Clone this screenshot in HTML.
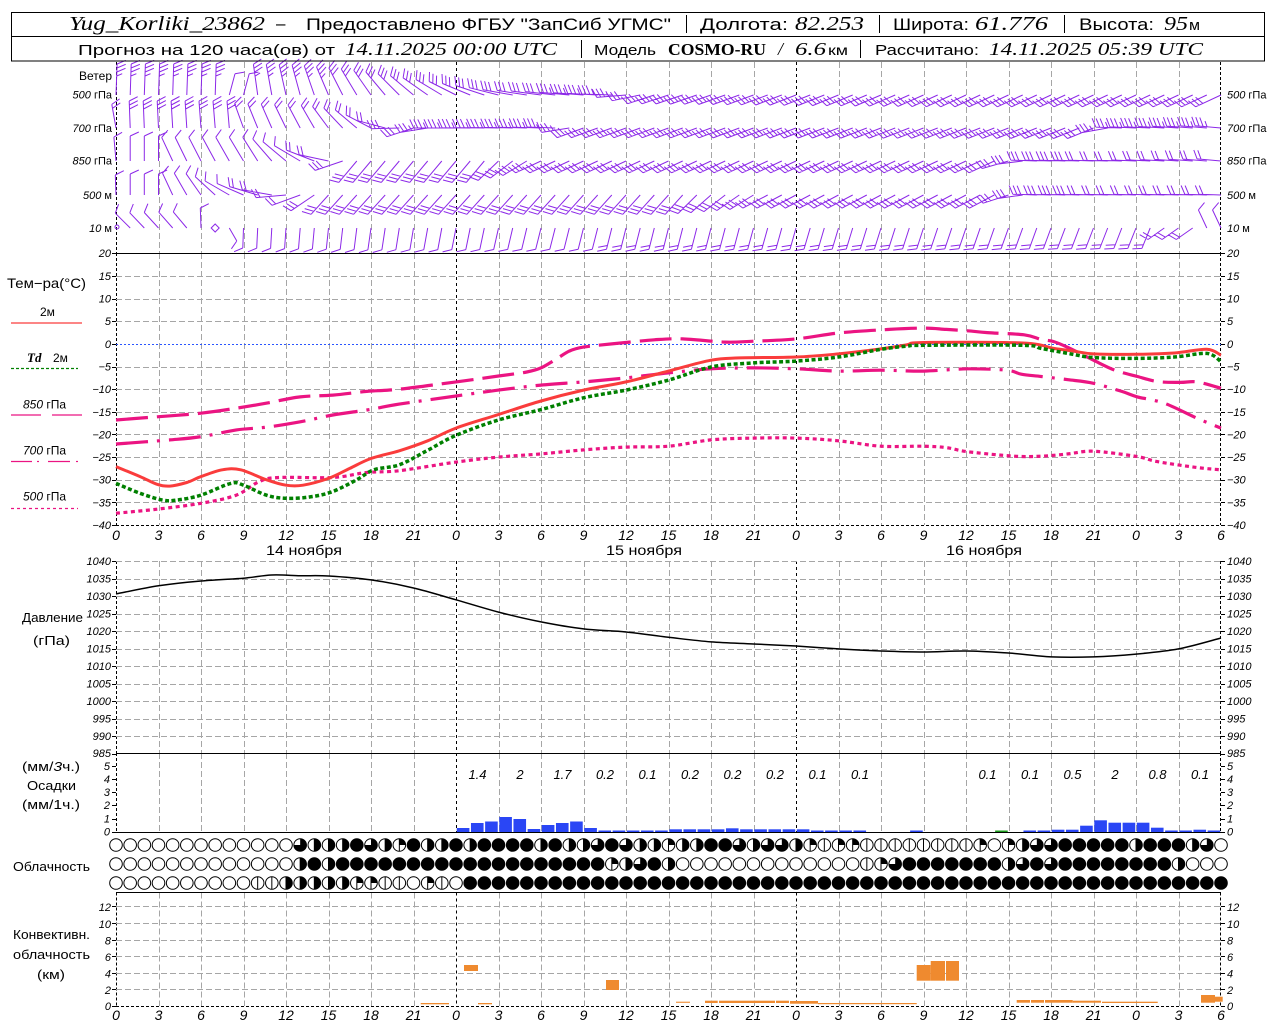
<!DOCTYPE html>
<html><head><meta charset="utf-8">
<style>
html,body{margin:0;padding:0;background:#fff;}
svg{display:block;}
text{font-family:"Liberation Sans",sans-serif;fill:#000;}
.sr{font-family:"Liberation Serif",serif;font-style:italic;}
.tk{font-size:11px;font-style:italic;}
.xl{font-size:14px;font-style:italic;text-anchor:middle;}
.pv{font-size:13px;font-style:italic;text-anchor:middle;}
.lb{font-size:13px;}
</style></head><body>
<svg id="s" width="1280" height="1024" viewBox="0 0 1280 1024" xmlns="http://www.w3.org/2000/svg">
<rect width="1280" height="1024" fill="#fff"/>
<g id="grid"></g>
<g id="data"></g>

<!-- header -->
<rect x="11.5" y="12.5" width="1253" height="48.5" fill="none" stroke="#000" stroke-width="1"/>
<line x1="11" y1="36.5" x2="1265" y2="36.5" stroke="#000"/>
<text class="sr" x="69" y="30" font-size="20" textLength="196" lengthAdjust="spacingAndGlyphs">Yug_Korliki_23862</text>
<text x="276" y="29" font-size="17">–</text>
<text x="306" y="30" font-size="17" textLength="365" lengthAdjust="spacingAndGlyphs">Предоставлено ФГБУ "ЗапСиб УГМС"</text>
<line x1="686.5" y1="15" x2="686.5" y2="33" stroke="#000"/>
<text x="700" y="30" font-size="17" textLength="88" lengthAdjust="spacingAndGlyphs">Долгота:</text>
<text class="sr" x="795" y="30" font-size="20" textLength="69" lengthAdjust="spacingAndGlyphs">82.253</text>
<line x1="879.5" y1="15" x2="879.5" y2="33" stroke="#000"/>
<text x="893" y="30" font-size="17" textLength="76" lengthAdjust="spacingAndGlyphs">Широта:</text>
<text class="sr" x="975" y="30" font-size="20" textLength="73" lengthAdjust="spacingAndGlyphs">61.776</text>
<line x1="1064.5" y1="15" x2="1064.5" y2="33" stroke="#000"/>
<text x="1079" y="30" font-size="17" textLength="75" lengthAdjust="spacingAndGlyphs">Высота:</text>
<text class="sr" x="1164" y="30" font-size="20" textLength="24" lengthAdjust="spacingAndGlyphs">95</text>
<text x="1189" y="30" font-size="15" textLength="11" lengthAdjust="spacingAndGlyphs">м</text>

<text x="78" y="55" font-size="15" textLength="257" lengthAdjust="spacingAndGlyphs">Прогноз на 120 часа(ов) от</text>
<text class="sr" x="345" y="55" font-size="18" textLength="212" lengthAdjust="spacingAndGlyphs">14.11.2025 00:00 UTC</text>
<line x1="581.5" y1="40" x2="581.5" y2="58" stroke="#000"/>
<text x="594" y="55" font-size="15" textLength="62" lengthAdjust="spacingAndGlyphs">Модель</text>
<text x="668" y="55" font-size="17" font-family="Liberation Serif" font-weight="bold" style="font-family:'Liberation Serif',serif" textLength="98" lengthAdjust="spacingAndGlyphs">COSMO-RU</text>
<text class="sr" x="778" y="55" font-size="18">/</text>
<text class="sr" x="795" y="55" font-size="18" textLength="31" lengthAdjust="spacingAndGlyphs">6.6</text>
<text x="828" y="55" font-size="14" textLength="20" lengthAdjust="spacingAndGlyphs">км</text>
<line x1="860.5" y1="40" x2="860.5" y2="58" stroke="#000"/>
<text x="875" y="55" font-size="15" textLength="104" lengthAdjust="spacingAndGlyphs">Рассчитано:</text>
<text class="sr" x="989" y="55" font-size="18" textLength="214" lengthAdjust="spacingAndGlyphs">14.11.2025 05:39 UTC</text>

<!-- wind labels -->
<text x="112" y="80" font-size="12" text-anchor="end">Ветер</text>
<g font-size="11" text-anchor="end">
<text x="112" y="98.5"><tspan font-style="italic">500</tspan> гПа</text>
<text x="112" y="132"><tspan font-style="italic">700</tspan> гПа</text>
<text x="112" y="164.5"><tspan font-style="italic">850</tspan> гПа</text>
<text x="112" y="199"><tspan font-style="italic">500</tspan>   м</text>
<text x="112" y="232"><tspan font-style="italic">10</tspan>    м</text>
</g>
<g font-size="11">
<text x="1227" y="98.5"><tspan font-style="italic">500</tspan> гПа</text>
<text x="1227" y="132"><tspan font-style="italic">700</tspan> гПа</text>
<text x="1227" y="164.5"><tspan font-style="italic">850</tspan> гПа</text>
<text x="1227" y="199"><tspan font-style="italic">500</tspan>   м</text>
<text x="1227" y="232"><tspan font-style="italic">10</tspan>    м</text>
</g>

<!-- temp legend -->
<text x="7" y="288" font-size="14" textLength="79" lengthAdjust="spacingAndGlyphs">Тем−ра(°C)</text>
<text x="40" y="316" font-size="12">2м</text>
<line x1="11" y1="323" x2="82" y2="323" stroke="#fa3c3c" stroke-width="1.2"/>
<text class="sr" x="27" y="362" font-size="13" font-weight="bold">Td</text>
<text x="53" y="362" font-size="12">2м</text>
<line x1="11" y1="368.5" x2="78" y2="368.5" stroke="#008000" stroke-width="1.2" stroke-dasharray="3,2"/>
<text x="23" y="408.5" font-size="12"><tspan font-style="italic">850</tspan> гПа</text>
<line x1="11" y1="415" x2="41" y2="415" stroke="#eb1482" stroke-width="1.2"/>
<line x1="52" y1="415" x2="82" y2="415" stroke="#eb1482" stroke-width="1.2"/>
<text x="23" y="454.5" font-size="12"><tspan font-style="italic">700</tspan> гПа</text>
<line x1="11" y1="461.5" x2="32" y2="461.5" stroke="#eb1482" stroke-width="1.2"/>
<line x1="37" y1="461.5" x2="39" y2="461.5" stroke="#eb1482" stroke-width="1.2"/>
<line x1="48" y1="461.5" x2="70" y2="461.5" stroke="#eb1482" stroke-width="1.2"/>
<line x1="76" y1="461.5" x2="78" y2="461.5" stroke="#eb1482" stroke-width="1.2"/>
<text x="23" y="500.5" font-size="12"><tspan font-style="italic">500</tspan> гПа</text>
<line x1="11" y1="508.5" x2="78" y2="508.5" stroke="#eb1482" stroke-width="1.2" stroke-dasharray="3,3"/>

<!-- temp ticks -->
<g class="tk" text-anchor="end">
<text x="111" y="257">20</text><text x="111" y="280">15</text><text x="111" y="302.5">10</text><text x="111" y="325">5</text><text x="111" y="348">0</text><text x="111" y="370.5">−5</text><text x="111" y="393">−10</text><text x="111" y="416">−15</text><text x="111" y="438.5">−20</text><text x="111" y="461">−25</text><text x="111" y="483.5">−30</text><text x="111" y="506.5">−35</text><text x="111" y="529">−40</text>
</g>
<g class="tk">
<text x="1227" y="257">20</text><text x="1227" y="280">15</text><text x="1227" y="302.5">10</text><text x="1227" y="325">5</text><text x="1227" y="348">0</text><text x="1227" y="370.5">−5</text><text x="1227" y="393">−10</text><text x="1227" y="416">−15</text><text x="1227" y="438.5">−20</text><text x="1227" y="461">−25</text><text x="1227" y="483.5">−30</text><text x="1227" y="506.5">−35</text><text x="1227" y="529">−40</text>
</g>

<!-- x labels temp -->
<g class="xl">
<text x="116" y="540">0</text><text x="158.5" y="540">3</text><text x="201" y="540">6</text><text x="243.5" y="540">9</text><text x="286" y="540">12</text><text x="328.5" y="540">15</text><text x="371" y="540">18</text><text x="413.5" y="540">21</text><text x="456" y="540">0</text><text x="498.5" y="540">3</text><text x="541" y="540">6</text><text x="583.5" y="540">9</text><text x="626" y="540">12</text><text x="668.5" y="540">15</text><text x="711" y="540">18</text><text x="753.5" y="540">21</text><text x="796" y="540">0</text><text x="838.5" y="540">3</text><text x="881" y="540">6</text><text x="923.5" y="540">9</text><text x="966" y="540">12</text><text x="1008.5" y="540">15</text><text x="1051" y="540">18</text><text x="1093.5" y="540">21</text><text x="1136" y="540">0</text><text x="1178.5" y="540">3</text><text x="1221" y="540">6</text>
</g>
<g font-size="14">
<text x="266" y="555" textLength="76" lengthAdjust="spacingAndGlyphs">14 ноября</text>
<text x="606" y="555" textLength="76" lengthAdjust="spacingAndGlyphs">15 ноября</text>
<text x="946" y="555" textLength="76" lengthAdjust="spacingAndGlyphs">16 ноября</text>
</g>

<!-- pressure -->
<text x="22" y="622" font-size="13" textLength="61" lengthAdjust="spacingAndGlyphs">Давление</text>
<text x="33" y="645" font-size="13" textLength="37" lengthAdjust="spacingAndGlyphs">(гПа)</text>
<g class="tk" text-anchor="end">
<text x="111" y="565">1040</text><text x="111" y="582.5">1035</text><text x="111" y="600">1030</text><text x="111" y="617.5">1025</text><text x="111" y="635">1020</text><text x="111" y="652.5">1015</text><text x="111" y="670">1010</text><text x="111" y="687.5">1005</text><text x="111" y="705">1000</text><text x="111" y="722.5">995</text><text x="111" y="740">990</text><text x="111" y="757">985</text>
</g>
<g class="tk">
<text x="1227" y="565">1040</text><text x="1227" y="582.5">1035</text><text x="1227" y="600">1030</text><text x="1227" y="617.5">1025</text><text x="1227" y="635">1020</text><text x="1227" y="652.5">1015</text><text x="1227" y="670">1010</text><text x="1227" y="687.5">1005</text><text x="1227" y="705">1000</text><text x="1227" y="722.5">995</text><text x="1227" y="740">990</text><text x="1227" y="757">985</text>
</g>

<!-- precip -->
<text x="22" y="771" font-size="13" textLength="58" lengthAdjust="spacingAndGlyphs">(мм/<tspan font-style="italic">3</tspan>ч.)</text>
<text x="27" y="790" font-size="13" textLength="49" lengthAdjust="spacingAndGlyphs">Осадки</text>
<text x="22" y="809" font-size="13" textLength="58" lengthAdjust="spacingAndGlyphs">(мм/1ч.)</text>
<g class="tk" text-anchor="end">
<text x="110" y="770">5</text><text x="110" y="783">4</text><text x="110" y="796">3</text><text x="110" y="809">2</text><text x="110" y="822.5">1</text><text x="110" y="835.5">0</text>
</g>
<g class="tk">
<text x="1227" y="770">5</text><text x="1227" y="783">4</text><text x="1227" y="796">3</text><text x="1227" y="809">2</text><text x="1227" y="822.5">1</text><text x="1227" y="835.5">0</text>
</g>
<g class="pv">
<text x="477.5" y="779">1.4</text><text x="520" y="779">2</text><text x="562.5" y="779">1.7</text><text x="605" y="779">0.2</text><text x="647.5" y="779">0.1</text><text x="690" y="779">0.2</text><text x="732.5" y="779">0.2</text><text x="775" y="779">0.2</text><text x="817.5" y="779">0.1</text><text x="860" y="779">0.1</text><text x="987.5" y="779">0.1</text><text x="1030" y="779">0.1</text><text x="1072.5" y="779">0.5</text><text x="1115" y="779">2</text><text x="1157.5" y="779">0.8</text><text x="1200" y="779">0.1</text>
</g>

<!-- cloud -->
<text x="13" y="871" font-size="13" textLength="77" lengthAdjust="spacingAndGlyphs">Облачность</text>

<!-- convective -->
<text x="13" y="939" font-size="13" textLength="77" lengthAdjust="spacingAndGlyphs">Конвективн.</text>
<text x="13" y="959" font-size="13" textLength="77" lengthAdjust="spacingAndGlyphs">облачность</text>
<text x="37" y="979" font-size="13" textLength="28" lengthAdjust="spacingAndGlyphs">(км)</text>
<g class="tk" text-anchor="end">
<text x="111" y="911">12</text><text x="111" y="928">10</text><text x="111" y="944.5">8</text><text x="111" y="961">6</text><text x="111" y="977.5">4</text><text x="111" y="994">2</text><text x="111" y="1010">0</text>
</g>
<g class="tk">
<text x="1227" y="911">12</text><text x="1227" y="928">10</text><text x="1227" y="944.5">8</text><text x="1227" y="961">6</text><text x="1227" y="977.5">4</text><text x="1227" y="994">2</text><text x="1227" y="1010">0</text>
</g>
<g class="xl">
<text x="116" y="1020">0</text><text x="158.5" y="1020">3</text><text x="201" y="1020">6</text><text x="243.5" y="1020">9</text><text x="286" y="1020">12</text><text x="328.5" y="1020">15</text><text x="371" y="1020">18</text><text x="413.5" y="1020">21</text><text x="456" y="1020">0</text><text x="498.5" y="1020">3</text><text x="541" y="1020">6</text><text x="583.5" y="1020">9</text><text x="626" y="1020">12</text><text x="668.5" y="1020">15</text><text x="711" y="1020">18</text><text x="753.5" y="1020">21</text><text x="796" y="1020">0</text><text x="838.5" y="1020">3</text><text x="881" y="1020">6</text><text x="923.5" y="1020">9</text><text x="966" y="1020">12</text><text x="1008.5" y="1020">15</text><text x="1051" y="1020">18</text><text x="1093.5" y="1020">21</text><text x="1136" y="1020">0</text><text x="1178.5" y="1020">3</text><text x="1221" y="1020">6</text>
</g>
</svg>
<script>
(function(){
const NS="http://www.w3.org/2000/svg";
const G=document.getElementById('grid'), D=document.getElementById('data');
function el(tag,a,p){const e=document.createElementNS(NS,tag);for(const k in a)e.setAttribute(k,a[k]);p.appendChild(e);return e;}
const X=h=>116+h*1105/78;
const Xr=h=>Math.round(X(h))+0.5;
const GRAY='#a6a6a6';
function hl(y,x1,x2,stroke,dash,p){const a={x1:x1,y1:y,x2:x2,y2:y,stroke:stroke,'stroke-width':1};if(dash)a['stroke-dasharray']=dash;el('line',a,p||G);}
function vl(x,y1,y2,stroke,dash,p){const a={x1:x,y1:y1,x2:x,y2:y2,stroke:stroke,'stroke-width':1};if(dash)a['stroke-dasharray']=dash;el('line',a,p||G);}
// vertical grid
const panels=[[62,253],[253,525],[561,753],[753,832],[892.5,1006]];
for(const [y1,y2] of panels){
  for(let h=3;h<78;h+=3){
    if(h==24||h==48) vl(Xr(h),y1,y2,'#000','3,3');
    else vl(Xr(h),y1,y2,GRAY,'6,3');
  }
  vl(116.5,y1,y2,'#000','3,2');
  vl(1220.5,y1,y2,'#000','3,2');
}
// temp horizontal grid
const TY=T=>343.9-T*4.528;
for(let T=15;T>=-35;T-=5){ if(T!==0) hl(Math.round(TY(T))+0.5,116,1221,GRAY,'6,3'); }
hl(253.5,116,1221,'#000');
hl(525.5,116,1221,'#000','3,2');
hl(344.5,116,1221,'#2a55ff','2,2');
// pressure grid
const PY=P=>561+(1040-P)*3.5;
for(let P=1040;P>=990;P-=5) hl(Math.round(PY(P))+0.5,116,1221,GRAY,'6,3');
hl(753.5,116,1221,'#000');
hl(832.5,116,1221,'#000');
hl(892.5,116,1221,'#000');
// conv grid
const CY=v=>1006-v*8.3;
for(let v=2;v<=12;v+=2) hl(Math.round(CY(v))+0.5,116,1221,GRAY,'6,3');
hl(1006.5,116,1221,'#000','3,2');
// ticks
function ticks(ys){for(const y of ys){hl(Math.round(y)+0.5,112,116,'#000');hl(Math.round(y)+0.5,1221,1225,'#000');}}
const ty=[];for(let T=20;T>=-40;T-=5)ty.push(TY(T));ticks(ty);
const py=[];for(let P=1040;P>=985;P-=5)py.push(PY(P));ticks(py);
ticks([766,779,792,805,818.5,831.5]);
const cy=[];for(let v=0;v<=12;v+=2)cy.push(CY(v));ticks(cy);

// smooth path
function path(pts){
  let d='M'+pts[0][0].toFixed(1)+','+pts[0][1].toFixed(1);
  for(let i=0;i<pts.length-1;i++){
    const p0=pts[Math.max(0,i-1)],p1=pts[i],p2=pts[i+1],p3=pts[Math.min(pts.length-1,i+2)];
    const c1x=p1[0]+(p2[0]-p0[0])/6,c1y=p1[1]+(p2[1]-p0[1])/6;
    const c2x=p2[0]-(p3[0]-p1[0])/6,c2y=p2[1]-(p3[1]-p1[1])/6;
    d+='C'+c1x.toFixed(1)+','+c1y.toFixed(1)+' '+c2x.toFixed(1)+','+c2y.toFixed(1)+' '+p2[0].toFixed(1)+','+p2[1].toFixed(1);
  }
  return d;
}
function curve(data,fy,stroke,w,dash,cap){
  const pts=data.map(p=>[X(p[0]),fy(p[1])]);
  const a={d:path(pts),fill:'none',stroke:stroke,'stroke-width':w,'stroke-linejoin':'round'};
  if(dash)a['stroke-dasharray']=dash;
  if(cap)a['stroke-linecap']=cap;
  el('path',a,D);
}
const PINK='#eb1482';
const T500=[[0,-37.4],[2.9,-36.5],[6,-35.2],[8.5,-33.4],[10.1,-30.4],[11.5,-29.5],[15.3,-29.5],[17.7,-28.4],[20,-28],[24,-26.1],[27,-25],[30,-24.3],[33,-23.4],[36,-22.8],[39,-22.6],[42,-21.2],[45,-20.8],[48,-20.8],[51,-21.4],[54,-22.6],[57,-22.6],[58.6,-22.9],[60.1,-23.8],[63.4,-24.8],[65.3,-24.8],[67.2,-24.3],[69,-23.7],[72.1,-24.9],[73.5,-26],[76.3,-27.3],[78,-27.8]];
const T700=[[0,-22.1],[3.8,-21.2],[6,-20.5],[8.5,-19],[10.6,-18.4],[13,-17.2],[15.3,-15.7],[17.7,-14.6],[20,-13.3],[24,-11.5],[27,-10.2],[30,-9.1],[33,-8.4],[36,-7.5],[39,-6.4],[42,-5.5],[45,-5.3],[48,-5.5],[51,-6],[54,-5.8],[57,-6],[60.1,-5.5],[62.9,-5.8],[63.9,-6.7],[65.3,-7.2],[67.2,-7.9],[69,-8.7],[71,-10.5],[72.1,-11.7],[74,-13.1],[76.3,-16.4],[78,-18.6]];
const T850=[[0,-16.8],[2.9,-16.1],[6,-15.3],[8.5,-14.2],[10.6,-13.1],[13,-11.7],[15.3,-11.3],[17.7,-10.5],[20,-10],[24,-8.4],[27,-7.1],[29,-6.2],[30,-5.3],[31,-3.5],[32,-1.6],[33,-0.7],[35,0],[38,0.9],[40,1.1],[43,0.4],[45,0.6],[48,1.1],[51,2.4],[54,3.1],[57,3.5],[58.6,3.2],[60.1,2.9],[61.5,2.5],[64.1,2.0],[65.3,1.0],[66.2,0.5],[67.2,-0.8],[69,-3.6],[70.5,-5.8],[72.1,-7.2],[73.5,-8.3],[75.1,-8.5],[76.3,-8.4],[78,-9.8]];
const TD=[[0,-30.8],[1.7,-33],[3.3,-34.5],[4.3,-34.5],[6,-33.4],[8.1,-30.8],[9,-31.2],[10.6,-33.4],[12,-34.1],[13.7,-33.8],[15.3,-32.6],[17,-30.0],[18.2,-27.8],[20,-26.7],[22,-23.5],[24,-20.2],[27,-16.8],[30,-14.5],[33,-11.9],[36,-10.2],[39,-8],[42,-5.1],[45,-4.2],[48,-3.8],[51,-2.9],[54,-1.2],[55.8,-0.5],[57,-0.3],[64,-0.3],[65.3,-1],[67.2,-2.1],[69,-3],[72,-3.2],[74.7,-2.9],[77,-2.1],[78,-3.9]];
const T2=[[0,-27.1],[1.7,-29.3],[2.9,-31.0],[3.8,-31.4],[5,-30.6],[6,-29.3],[7.5,-27.8],[8.8,-27.8],[10.6,-30.0],[12,-31.2],[13.2,-31.2],[15,-29.7],[16.5,-27.5],[18,-25.3],[20,-23.6],[22,-21.4],[24,-18.6],[27,-15.6],[30,-12.6],[33,-10.2],[36,-8.4],[39,-6.0],[42,-3.6],[44,-3.1],[48,-2.9],[51,-2.2],[54,-1.1],[55.8,-0.2],[57,0.3],[64,0.2],[66.2,-1],[67.6,-1.6],[69,-2.2],[72,-2.3],[74.7,-2.0],[77,-1.2],[78,-2.5]];
curve(T500,TY,PINK,3.2,'4,3.5');
curve(T700,TY,PINK,3.2,'32,9,3,9');
curve(T850,TY,PINK,3.2,'32,9');
curve(T2,TY,'#fa3c3c',3);
curve(TD,TY,'#008000',3.5,'4,2.5');
// pressure
const PR=[[0,1030.6],[3,1032.9],[6,1034.3],[9,1035.1],[11,1036],[13,1035.8],[15,1035.7],[18,1034.6],[21,1032.3],[24,1028.9],[27,1025.4],[30,1022.6],[33,1020.6],[36,1019.7],[39,1018.2],[42,1016.9],[45,1016.3],[48,1015.7],[51,1014.9],[54,1014.3],[57,1014],[60,1014.3],[63,1013.7],[66,1012.6],[69,1012.6],[72,1013.4],[75,1014.9],[78,1018]];
curve(PR,PY,'#000',1.5);

// precip bars
const PB=[[24,4],[25,9],[26,10.5],[27,15],[28,13],[29,3],[30,7],[31,9],[32,10.5],[33,4],[34,1.5],[35,1.5],[36,1.5],[37,1.5],[38,1.5],[39,2.7],[40,2.7],[41,2.7],[42,2.7],[43,3.7],[44,2.7],[45,2.7],[46,2.7],[47,2.7],[48,2.7],[49,1.5],[50,1.5],[51,1.5],[52,1.5],[56,1.5],[62,1.5,'#1a9a1a'],[64,1.5],[65,1.5],[66,2.3],[67,2.3],[68,6.3],[69,11.7],[70,9.3],[71,9.3],[72,9.3],[73,4.3],[74,1.5],[75,1.5],[76,2.3],[77,1.5]];
for(const b of PB){el('rect',{x:X(b[0])+0.8,y:832-b[1],width:12.6,height:b[1],fill:b[2]||'#2a46f5'},D);}

// convective bars
const OR='#ef8a2f';
const CB=[[420.7,449,1003,1004.3],[464,478,965,971],[478,492,1003,1004.3],[606,619,980,990],[676,690,1001.7,1002.8],[705,717.7,1000.7,1003],[719,775,1000.7,1003],[776,789,1000.7,1003],[790,818,1001,1003.7],[818,840,1003,1004.2],[840,916.7,1003,1004.2],[916.7,930.7,965,980.7],[930.7,945,961,980.7],[946,959,961,980.7],[1016.7,1030,1000,1002.7],[1031,1044,1000,1002.7],[1045,1072.7,1000,1002.7],[1072.7,1101,1000.7,1002.7],[1102,1129,1001.7,1003],[1129,1157.7,1001.7,1003],[1201,1215,995,1002.7],[1215,1222.7,996.7,1001.7]];
for(const c of CB){el('rect',{x:c[0],y:c[2],width:c[1]-c[0],height:c[3]-c[2],fill:OR},D);}

// clouds
const rows=[
 "ooooooooooooo"+"thhhfthqf"+"hhfhffffhfhh"+"tfthhqhhffthtthql"+"qq"+"llllllll"+"qoqhtt"+"fffff"+"hfffhto",
 "ooooooooooooo"+"hfh"+"fffffffffffffffffff"+"qhtfh"+"ooooooooooooo"+"lqt"+"fffffff"+"htft"+"ffffffff"+"h"+"ooo",
 "oooooooooo"+"ll"+"hhhhh"+"qqll"+"o"+"ql"+"o"+"f".repeat(54)
];
const rowY=[845,864,883];
function cloud(cx,cy,c){
  const r=6.3;
  el('circle',{cx:cx,cy:cy,r:r,fill:c=='f'?'#000':'#fff',stroke:'#000','stroke-width':1},D);
  if(c=='h') el('path',{d:`M${cx},${cy-r}A${r},${r} 0 0 1 ${cx},${cy+r}Z`,fill:'#000'},D);
  if(c=='q') el('path',{d:`M${cx},${cy}L${cx},${cy-r}A${r},${r} 0 0 1 ${cx+r},${cy}Z`,fill:'#000'},D);
  if(c=='t') el('path',{d:`M${cx},${cy}L${cx},${cy-r}A${r},${r} 0 1 1 ${cx-r},${cy}Z`,fill:'#000'},D);
  if(c=='l'||c=='q'||c=='h') el('line',{x1:cx,y1:cy-r,x2:cx,y2:cy+r,stroke:'#000','stroke-width':1},D);
}
for(let r=0;r<3;r++){const s=rows[r];for(let h=0;h<79;h++){cloud(X(h),rowY[r],s[h]||'o');}}

// wind barbs
const PUR='#8c28e8';
function interp(kf,h){
  if(h<=kf[0][0])return kf[0].slice(1);
  for(let i=0;i<kf.length-1;i++){const A=kf[i],B=kf[i+1];
    if(h>=A[0]&&h<=B[0]){const t=(B[0]==A[0])?0:(h-A[0])/(B[0]-A[0]);return [A[1]+(B[1]-A[1])*t,Math.round(A[2]+(B[2]-A[2])*t),A[3]+(B[3]-A[3])*t];}}
  return kf[kf.length-1].slice(1);
}
let wd='';
function barb(x,y,a,n,L){
  const r=a*Math.PI/180,ux=Math.cos(r),uy=-Math.sin(r);
  const tx=x+ux*L,ty=y+uy*L;
  wd+=`M${x.toFixed(1)},${y.toFixed(1)}L${tx.toFixed(1)},${ty.toFixed(1)}`;
  const fa=(a-65)*Math.PI/180,fx=Math.cos(fa),fy=-Math.sin(fa);
  for(let i=0;i<n;i++){const bx=tx-ux*i*4,by=ty-uy*i*4;const fl=(i==n-1&&n>3)?6:9.5;
    wd+=`M${bx.toFixed(1)},${by.toFixed(1)}L${(bx+fx*fl).toFixed(1)},${(by+fy*fl).toFixed(1)}`;}
}
const levels=[
 [95,[[0,88,4,31],[7,88,4,31],[8,75,1,22],[9,75,1,22],[10,98,4,31],[13,105,4,31],[18,125,3,30],[22,145,3,30],[28,170,3,30],[35,178,4,30],[38,198,3,28],[60,205,3,28],[78,205,3,28]]],
 [128,[[0,100,2,24],[1,92,3,27],[8,95,3,27],[9,110,2,26],[14,120,2,26],[17,140,2,28],[19,165,2,28],[21,198,3,28],[23,180,4,28],[31,178,4,28],[33,200,3,28],[69,202,3,28],[71,178,4,26],[78,175,4,26]]],
 [161,[[0,95,1,24],[1,90,1,25],[3,90,1,25],[4,115,1,26],[10,122,1,28],[12,140,1,30],[15,168,2,30],[17,230,3,28],[26,230,3,28],[30,205,3,28],[62,205,3,28],[65,178,3,26],[71,178,2,24],[78,175,2,24]]],
 [195,[[0,92,1,20],[1,90,1,21],[3,90,1,21],[4,115,1,24],[6,125,1,26],[8,150,1,28],[11,170,2,30],[13,200,2,30],[15,228,3,26],[40,228,3,26],[46,208,3,28],[62,208,3,28],[65,178,3,24],[71,178,2,22],[78,178,2,22]]],
 [228,[[0,135,1,20],[1,135,1,21],[5,130,1,21],[6,92,1,20],[8,300,1,15],[9,268,1,20],[18,262,1,22],[30,256,1,22],[40,256,2,22],[73,248,2,22],[74,215,2,20],[76,215,2,20],[77,115,1,20],[78,115,1,20]]]
];
for(const [y,kf] of levels){
  for(let h=0;h<=78;h++){
    if(y==228&&(h==0||h==7)){continue;}
    const [a,n,L]=interp(kf,h);
    barb(X(h),y,a,n,L);
  }
}
el('path',{d:wd,fill:'none',stroke:PUR,'stroke-width':1},D);
// calm marks
el('path',{d:`M${X(7)},224 L${X(7)+4},228 L${X(7)},232 L${X(7)-4},228Z`,fill:'none',stroke:PUR},D);
el('circle',{cx:117,cy:227,r:2,fill:'none',stroke:PUR},D);
})();
</script>
</body></html>
